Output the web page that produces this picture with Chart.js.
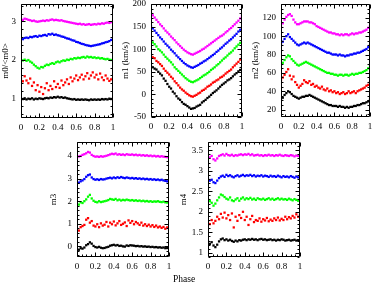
<!DOCTYPE html>
<html><head><meta charset="utf-8">
<script src="https://cdn.jsdelivr.net/npm/chart.js@4/dist/chart.umd.min.js"></script>
<style>
html,body{margin:0;padding:0;background:#fff;width:374px;height:283px;overflow:hidden;position:relative}
canvas{position:absolute}
#phaseLabel{position:absolute;left:173px;top:275px;font:9.5px 'Liberation Serif',serif;color:#000;line-height:9px;-webkit-font-smoothing:antialiased;opacity:0.999;will-change:transform}
</style></head><body>
<canvas id="c0" width="118" height="135" style="left:0px;top:0px;width:118px;height:135px"></canvas>
<canvas id="c1" width="127" height="135" style="left:120px;top:0px;width:127px;height:135px"></canvas>
<canvas id="c2" width="124" height="135" style="left:250px;top:0px;width:124px;height:135px"></canvas>
<canvas id="c3" width="126" height="135" style="left:48px;top:138px;width:126px;height:135px"></canvas>
<canvas id="c4" width="127" height="135" style="left:178px;top:138px;width:127px;height:135px"></canvas>
<div id="phaseLabel">Phase</div>
<script>
// ---------- DATA ----------
const phase = [0,0.02,0.04,0.06,0.08,0.10,0.12,0.14,0.16,0.18,
  0.20,0.22,0.24,0.26,0.28,0.30,0.32,0.34,0.36,0.38,
  0.40,0.42,0.44,0.46,0.48,0.50,0.52,0.54,0.56,0.58,
  0.60,0.62,0.64,0.66,0.68,0.70,0.72,0.74,0.76,0.78,
  0.80,0.82,0.84,0.86,0.88,0.90,0.92,0.94,0.96,0.98,1.00];
const phaseTicks = [0,0.2,0.4,0.6,0.8,1];

// m0/<m0>
const m0Black = [1.00,0.99,1.01,0.98,1.00,0.99,1.01,0.98,1.00,0.99, 1.01,1.00,0.99,1.01,1.02,1.01,1.03,1.02,1.04,1.03, 1.05,1.03,1.04,1.02,1.03,1.01,1.00,0.99,0.98,0.99, 0.97,0.98,0.97,0.98,0.97,0.98,0.97,0.96,0.98,0.97, 0.98,0.97,0.98,0.97,0.99,0.98,0.99,0.98,1.00,0.99, 1.01];
const m0Red = [1.52,1.45,1.58,1.47,1.40,1.52,1.33,1.42,1.22,1.35, 1.18,1.30,1.12,1.27,1.40,1.22,1.33,1.25,1.45,1.30, 1.38,1.28,1.47,1.35,1.42,1.50,1.38,1.55,1.45,1.52, 1.60,1.48,1.55,1.62,1.50,1.58,1.66,1.52,1.60,1.68, 1.55,1.62,1.50,1.65,1.55,1.48,1.60,1.52,1.46,1.50, 1.53];
const m0Green = [2.00,1.99,2.01,1.98,2.00,1.96,1.93,1.88,1.84,1.80, 1.78,1.82,1.81,1.85,1.88,1.87,1.90,1.92,1.90,1.94, 1.96,1.94,1.97,1.99,1.98,2.01,2.00,2.03,2.02,2.05, 2.04,2.06,2.05,2.07,2.08,2.06,2.09,2.07,2.08,2.06, 2.07,2.05,2.06,2.04,2.05,2.03,2.02,2.03,2.01,2.00, 2.02];
const m0Blue = [2.55,2.54,2.57,2.58,2.57,2.60,2.59,2.61,2.62,2.60, 2.63,2.62,2.64,2.65,2.63,2.67,2.66,2.68,2.65,2.66, 2.64,2.63,2.61,2.60,2.58,2.56,2.55,2.53,2.51,2.50, 2.47,2.46,2.44,2.42,2.41,2.39,2.38,2.37,2.36,2.37, 2.38,2.39,2.40,2.41,2.43,2.44,2.46,2.47,2.49,2.52, 2.55];
const m0Magenta = [3.00,3.04,3.07,3.06,3.04,3.03,3.01,3.02,3.00,2.99, 3.00,3.01,3.02,3.01,3.03,3.02,3.04,3.05,3.03,3.04, 3.03,3.02,3.03,3.01,3.00,2.99,2.98,2.97,2.96,2.95, 2.94,2.93,2.94,2.92,2.93,2.91,2.92,2.93,2.91,2.92, 2.93,2.92,2.94,2.93,2.95,2.94,2.96,2.97,2.96,2.98, 3.00];
const m0Ticks = [1,2,3];

// m1 (km/s)
const m1Black = [63,60,57,55,50,46,42,35,30,23, 17,13,6,2,-4,-9,-12,-17,-21,-23, -26,-29,-32,-31,-30,-27,-25,-23,-18,-15, -12,-8,-5,-1,3,6,9,13,17,21, 24,27,31,33,36,40,44,47,51,54, 60];
const m1Red = [86,82,80,74,71,67,63,57,52,48, 44,39,35,29,25,20,15,11,8,4, 1,-2,-4,-5,-3,-1,2,4,8,10, 13,17,19,22,26,28,31,33,37,39, 42,46,49,52,55,60,64,68,72,77, 83];
const m1Green = [119,115,111,106,100,97,93,88,83,79, 75,71,66,60,56,52,48,44,40,36, 33,30,28,27,29,31,33,36,39,42, 44,47,50,54,57,60,64,67,71,75, 79,82,86,90,93,97,102,106,110,114, 119];
const m1Blue = [151,146,141,136,131,126,122,117,112,108, 104,99,95,91,86,82,78,74,70,67, 64,62,60,59,61,63,65,68,70,73, 75,78,81,84,87,90,94,97,101,104, 108,112,115,119,122,126,130,134,139,143, 148];
const m1Magenta = [180,175,170,165,160,155,151,146,141,137, 133,128,124,120,115,111,107,103,99,96, 93,91,89,88,90,92,94,96,99,101, 104,107,110,113,116,119,122,125,128,130, 133,137,140,144,147,151,155,159,163,168, 174];
const m1Ticks = [-50,0,50,100,150,200];

// m2 (km/s)
const m2Black = [31,33,36,38,40,39,37,35,34,33, 32,33,34,34,35,35,36,35,34,33, 32,31,30,29,28,27,26,25,25,24, 24,24,23,24,23,23,22,23,22,23, 23,24,24,25,25,26,27,27,28,29, 31];
const m2Red = [52,55,58,61,64,57,53,56,50,47, 44,46,48,52,50,49,51,47,48,45, 46,44,43,45,42,41,43,40,41,39, 40,38,39,37,38,39,37,38,40,38, 39,40,38,40,41,42,43,44,46,47, 50];
const m2Green = [69,71,74,77,79,78,75,73,71,69, 68,69,70,71,72,71,70,69,68,67, 66,65,64,63,62,61,60,60,59,59, 58,58,57,58,58,57,58,58,57,58, 59,58,59,59,60,60,61,62,63,65, 68];
const m2Blue = [92,94,97,100,102,99,97,95,93,91, 90,91,92,93,92,93,92,91,90,89, 88,87,86,85,84,83,82,82,81,80, 80,80,79,80,79,79,78,79,79,80, 80,81,81,82,82,83,84,85,86,88, 90];
const m2Magenta = [110,114,118,121,123,124,122,118,115,113, 113,114,115,116,116,116,115,115,114,113, 111,110,109,108,107,106,105,104,104,103, 103,102,102,101,102,101,102,102,101,102, 103,102,103,103,104,104,105,106,107,109, 111];
const m2Ticks = [20,40,60,80,100,120];

// m3
const m3Black = [-0.12,-0.15,-0.08,-0.10,-0.05,0.05,0.10,0.18,0.12,0.02, -0.03,-0.05,-0.02,-0.06,-0.08,-0.07,-0.04,-0.02,0.03,0.05, 0.07,0.04,0.06,0.02,0.03,0.00,-0.01,0.04,0.02,0.05, 0.04,0.03,0.01,0.02,0.00,0.01,-0.01,0.00,-0.02,-0.01, -0.03,-0.02,-0.04,-0.03,-0.05,-0.04,-0.06,-0.05,-0.08,-0.07, -0.10];
const m3Red = [0.78,0.70,0.85,0.90,0.95,1.18,1.25,1.05,1.12,0.92, 0.88,0.98,0.85,1.02,0.92,0.96,1.08,0.88,1.05,0.98, 1.10,0.93,1.02,1.12,0.95,1.00,1.06,0.90,1.15,1.04, 1.12,0.98,1.08,1.02,0.95,1.05,0.92,0.98,0.90,0.96, 0.88,0.94,0.86,0.92,0.84,0.88,0.82,0.86,0.78,0.84, 0.75];
const m3Green = [1.90,1.85,1.95,1.92,2.00,2.08,2.20,2.28,2.12,2.02, 1.97,1.95,2.00,1.96,1.98,2.00,2.02,2.05,2.10,2.08, 2.06,2.10,2.04,2.07,2.03,2.06,2.04,2.07,2.05,2.03, 2.05,2.02,2.04,2.01,2.03,2.00,2.02,1.99,2.01,1.98, 2.00,1.97,1.99,1.98,2.00,1.97,1.96,1.98,1.95,1.94, 1.93];
const m3Blue = [2.85,2.82,2.88,2.92,2.98,3.08,3.15,3.18,3.05,2.98, 2.95,2.97,2.94,2.98,2.96,2.97,3.00,3.02,3.04,3.01, 3.05,3.02,3.06,3.03,3.07,3.04,3.02,3.05,3.03,3.01, 3.03,3.00,3.02,2.99,3.01,2.98,3.00,2.97,2.99,2.96, 2.98,2.95,2.97,2.94,2.96,2.93,2.95,2.92,2.90,2.88, 2.86];
const m3Magenta = [3.95,3.98,4.00,4.05,4.08,4.12,4.18,4.15,4.05,4.00, 3.97,3.98,3.96,3.99,3.97,3.99,4.01,4.04,4.07,4.10, 4.08,4.11,4.06,4.08,4.05,4.07,4.04,4.08,4.06,4.05, 4.07,4.04,4.06,4.03,4.05,4.02,4.04,4.01,4.03,4.00, 4.02,3.99,4.01,3.98,4.00,3.97,3.99,3.97,3.96,3.95, 3.94];
const m3Ticks = [0,1,2,3,4];

// m4
const m4Black = [1.28,1.22,1.26,1.18,1.14,1.20,1.28,1.33,1.35,1.31, 1.33,1.30,1.32,1.29,1.27,1.30,1.28,1.31,1.30,1.32, 1.33,1.31,1.33,1.32,1.34,1.32,1.33,1.31,1.33,1.34, 1.32,1.33,1.31,1.32,1.33,1.31,1.32,1.30,1.32,1.31, 1.33,1.32,1.30,1.31,1.32,1.30,1.31,1.32,1.30,1.31, 1.30];
const m4Red = [1.75,1.70,1.80,1.72,1.78,1.88,1.82,1.95,1.86,1.98, 1.84,1.92,1.80,1.96,1.62,1.88,1.78,1.92,1.85,2.00, 1.80,1.88,1.68,1.82,1.90,1.75,1.80,1.78,1.84,1.76, 1.82,1.79,1.85,1.77,1.81,1.78,1.84,1.80,1.86,1.79, 1.83,1.80,1.88,1.82,1.87,1.84,1.90,1.86,1.94,1.88, 1.92];
const m4Green = [2.30,2.26,2.22,2.15,2.20,2.28,2.35,2.42,2.40,2.36, 2.32,2.30,2.35,2.28,2.26,2.30,2.33,2.27,2.32,2.35, 2.30,2.33,2.31,2.34,2.30,2.32,2.29,2.33,2.31,2.30, 2.32,2.29,2.31,2.33,2.30,2.32,2.29,2.31,2.33,2.30, 2.32,2.30,2.31,2.29,2.32,2.30,2.28,2.31,2.29,2.27, 2.30];
const m4Blue = [2.80,2.76,2.78,2.72,2.70,2.76,2.82,2.86,2.88,2.85, 2.90,2.87,2.89,2.86,2.84,2.87,2.89,2.86,2.88,2.90, 2.87,2.89,2.88,2.90,2.87,2.89,2.86,2.88,2.87,2.89, 2.86,2.88,2.87,2.85,2.88,2.86,2.87,2.85,2.88,2.86, 2.84,2.87,2.85,2.86,2.84,2.87,2.85,2.83,2.86,2.84, 2.80];
const m4Magenta = [3.35,3.32,3.36,3.28,3.25,3.30,3.36,3.38,3.40,3.37, 3.41,3.38,3.37,3.39,3.36,3.38,3.37,3.39,3.40,3.38, 3.40,3.39,3.41,3.38,3.40,3.37,3.38,3.39,3.37,3.38, 3.36,3.38,3.37,3.39,3.37,3.38,3.36,3.38,3.37,3.39, 3.37,3.36,3.38,3.37,3.36,3.38,3.37,3.35,3.37,3.36, 3.38];
const m4Ticks = [1,1.5,2,2.5,3,3.5];

// ---------- STYLE ----------
const seriesColors = ['#000000','#ff0000','#00ff00','#0000ff','#ff00ff'];
Chart.defaults.font.family = "'Liberation Serif', serif";
Chart.defaults.font.size = 9;
Chart.defaults.color = '#000';

const frameTicks = {
  id: 'frameTicks',
  afterDraw(chart, args, o) {
    const {ctx, chartArea: a, scales: {x, y}} = chart;
    const L = Math.round(a.left) + 0.5, R = Math.round(a.right) - 0.5;
    const T = Math.round(a.top) + 0.5, B = Math.round(a.bottom) - 0.5;
    ctx.save();
    ctx.strokeStyle = '#000'; ctx.lineWidth = 1;
    ctx.beginPath();
    ctx.rect(L, T, R - L, B - T);
    const isMajor = (v, m) => Math.abs(v / m - Math.round(v / m)) < 1e-6;
    let start = Math.ceil(x.min / o.xMinor - 1e-6);
    let end = Math.floor(x.max / o.xMinor + 1e-6);
    for (let i = start; i <= end; i++) {
      const v = i * o.xMinor;
      const px = Math.round(x.getPixelForValue(v)) + 0.5;
      const len = isMajor(v, o.xMajor) ? 4 : 2;
      ctx.moveTo(px, B); ctx.lineTo(px, B - len);
      ctx.moveTo(px, T); ctx.lineTo(px, T + len);
    }
    start = Math.ceil(y.min / o.yMinor - 1e-6);
    end = Math.floor(y.max / o.yMinor + 1e-6);
    for (let i = start; i <= end; i++) {
      const v = i * o.yMinor;
      const py = Math.round(y.getPixelForValue(v)) + 0.5;
      const len = isMajor(v, o.yMajor) ? 4 : 2;
      ctx.moveTo(L, py); ctx.lineTo(L + len, py);
      ctx.moveTo(R, py); ctx.lineTo(R - len, py);
    }
    ctx.stroke();
    ctx.restore();
  }
};

const fmt = v => String(Math.round(v * 100) / 100);

function panel(id, series, yTitle, yMin, yMax, yTicks, yMajor, yMinor, g) {
  const datasets = series.map((vals, i) => ({
    data: phase.map((p, j) => ({x: p, y: vals[j]})),
    backgroundColor: seriesColors[i],
    borderColor: seriesColors[i],
    pointStyle: 'rect',
    pointRadius: 1.6,
    pointBorderWidth: 0,
    showLine: false
  }));
  return new Chart(document.getElementById(id), {
    type: 'scatter',
    data: {datasets},
    options: {
      responsive: false, animation: false, devicePixelRatio: 1,
      layout: {padding: {left: 0, top: g.top, right: g.right, bottom: 0}},
      plugins: {legend: {display: false}, tooltip: {enabled: false},
        frameTicks: {xMajor: 0.2, xMinor: 0.05, yMajor: yMajor, yMinor: yMinor}},
      scales: {
        x: {
          type: 'linear', min: 0, max: 1,
          grid: {display: false, drawTicks: false}, border: {display: false},
          ticks: {padding: 4, autoSkip: false, maxRotation: 0, minRotation: 0, color: '#000', callback: fmt},
          afterBuildTicks: s => { s.ticks = phaseTicks.map(v => ({value: v})); },
          afterFit: s => { s.height = g.xH; s.paddingLeft = 0; s.paddingRight = 0; }
        },
        y: {
          type: 'linear', min: yMin, max: yMax,
          grid: {display: false, drawTicks: false}, border: {display: false},
          ticks: {padding: 5, autoSkip: false, color: '#000', callback: fmt},
          title: {display: true, text: yTitle, color: '#000', padding: 0, font: {size: 9}},
          afterBuildTicks: s => { s.ticks = yTicks.map(v => ({value: v})); },
          afterFit: s => { s.width = g.yW; s.paddingTop = 0; s.paddingBottom = 0; }
        }
      }
    },
    plugins: [frameTicks]
  });
}

panel('c0', [m0Black, m0Red, m0Green, m0Blue, m0Magenta], 'm0/<m0>', 0.5, 3.45, m0Ticks, 1, 0.2,
  {top: 3, right: 5, xH: 17, yW: 21});
panel('c1', [m1Black, m1Red, m1Green, m1Blue, m1Magenta], 'm1 (km/s)', -50, 200, m1Ticks, 50, 10,
  {top: 3, right: 5, xH: 18, yW: 31});
panel('c2', [m2Black, m2Red, m2Green, m2Blue, m2Magenta], 'm2 (km/s)', 12, 135, m2Ticks, 20, 5,
  {top: 3, right: 1, xH: 18, yW: 31});
panel('c3', [m3Black, m3Red, m3Green, m3Blue, m3Magenta], 'm3', -0.47, 4.62, m3Ticks, 1, 0.2,
  {top: 4, right: 5, xH: 16, yW: 29});
panel('c4', [m4Black, m4Red, m4Green, m4Blue, m4Magenta], 'm4', 0.9, 3.7, m4Ticks, 0.5, 0.1,
  {top: 4, right: 5, xH: 16, yW: 30});
</script>
</body></html>
